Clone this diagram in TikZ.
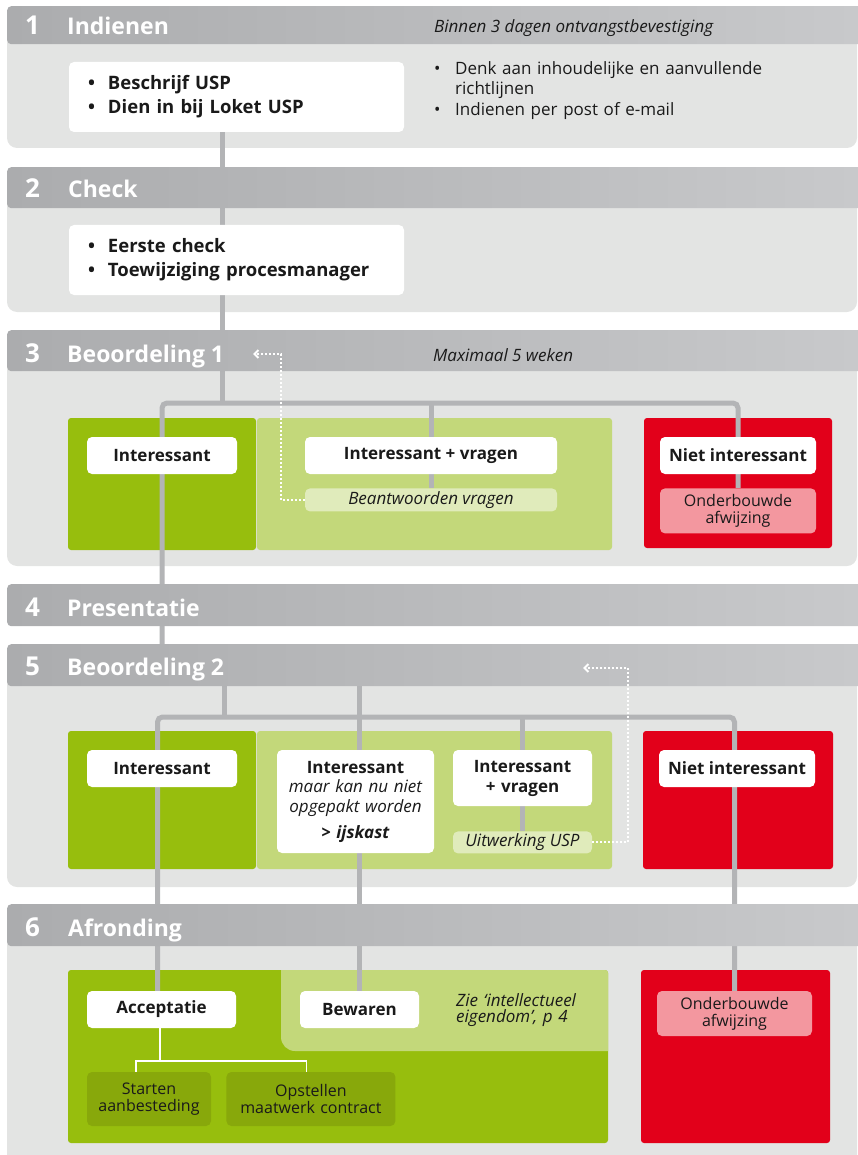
\documentclass[tikz,border=0pt]{standalone}
\usepackage{fontspec}
\setmainfont{Open Sans}
\usetikzlibrary{positioning,arrows.meta}

\definecolor{ink}{HTML}{1A1A1A}
\definecolor{barl}{HTML}{ABACAE}
\definecolor{barr}{HTML}{C9CACC}
\definecolor{panelgray}{HTML}{E3E4E3}
\definecolor{trunkgray}{HTML}{B3B4B6}
\definecolor{dkgreen}{HTML}{97BE0D}
\definecolor{ltgreen}{HTML}{C3D87A}
\definecolor{pale}{HTML}{E0EBBB}
\definecolor{olive}{HTML}{88A80B}
\definecolor{alert}{HTML}{E2001A}
\definecolor{rose}{HTML}{F3979F}

\pgfdeclarelayer{panels}
\pgfdeclarelayer{lines}
\pgfsetlayers{panels,lines,main}

\begin{document}
\begin{tikzpicture}[x=1pt,y=-1pt,
    bar/.style={anchor=north west, minimum width=880pt, inner sep=0pt,
      rounded corners=4pt, left color=barl, right color=barr},
    barnum/.style={anchor=base west, inner sep=0pt, text=white,
      font=\bfseries\fontsize{26}{26}\selectfont},
    bartitle/.style={anchor=base west, inner sep=0pt, text=white,
      font=\bfseries\fontsize{23}{26}\selectfont},
    barnote/.style={anchor=base west, inner sep=0pt, text=ink,
      font=\itshape\fontsize{17}{20}\selectfont},
    panel/.style={fill=panelgray, rounded corners=10pt},
    field/.style={rounded corners=3pt},
    box/.style={fill=white, rounded corners=5pt, inner sep=0pt, text=ink,
      align=center, font=\bfseries\fontsize{17}{20}\selectfont},
    list/.style={box, align=left, font=\bfseries\fontsize{18.5}{24}\selectfont},
    sub/.style={box, fill=pale, font=\itshape\fontsize{17}{18}\selectfont},
    reject/.style={box, fill=rose, font=\fontsize{16}{17}\selectfont},
    task/.style={box, fill=olive, font=\fontsize{16}{17}\selectfont},
    trunk/.style={draw=trunkgray, line width=5pt},
    twig/.style={draw=white, line width=1.5pt},
    retour/.style={draw=white, line width=2pt, dash pattern=on 2pt off 2pt,
      -{Straight Barb[length=4pt,width=8pt]}}]
  \useasboundingbox (0,0) rectangle (858,1155);

  % grey panels and coloured fields
  \begin{pgfonlayer}{panels}
    \fill[panel] (7,25) rectangle (857,148);
    \fill[panel] (7,185) rectangle (857,312);
    \fill[panel] (7,350) rectangle (857,566);
    \fill[panel] (7,665) rectangle (857,887);
    \fill[panel] (7,925) rectangle (857,1175);
    \fill[field, dkgreen] (68,418) rectangle (256,550);
    \fill[field, ltgreen] (257,418) rectangle (612,550);
    \fill[field, alert] (644,418) rectangle (832,548);
    \fill[field, dkgreen] (68,731) rectangle (256,869);
    \fill[field, ltgreen] (257,731) rectangle (612,869);
    \fill[field, alert] (643,731) rectangle (833,869);
    \fill[field, dkgreen] (68,970) rectangle (608,1143);
    \begin{scope}
      \clip[field] (68,970) rectangle (608,1143);
      \fill[ltgreen, rounded corners=14pt] (281,950) rectangle (640,1051);
    \end{scope}
    \fill[field, alert] (641,970) rectangle (830,1143);
  \end{pgfonlayer}

  % step bars
  \node[bar, minimum height=38pt] (bar1) at (7,6) {};
  \node[bar, minimum height=41pt] (bar2) at (7,167) {};
  \node[bar, minimum height=41pt] (bar3) at (7,330) {};
  \node[bar, minimum height=42pt] (bar4) at (7,584) {};
  \node[bar, minimum height=42pt] (bar5) at (7,644) {};
  \node[bar, minimum height=42pt] (bar6) at (7,904) {};

  \node[barnum] (num1) at ([xshift=18pt,yshift=10pt]bar1.south west) {1};
  \node[bartitle] (tit1) at ([xshift=60pt,yshift=10pt]bar1.south west) {Indienen};
  \node[barnum] (num2) at ([xshift=18pt,yshift=11pt]bar2.south west) {2};
  \node[bartitle] (tit2) at ([xshift=61pt,yshift=11pt]bar2.south west) {Check};
  \node[barnum] (num3) at ([xshift=18pt,yshift=9pt]bar3.south west) {3};
  \node[bartitle] (tit3) at ([xshift=60pt,yshift=9pt]bar3.south west) {Beoordeling 1};
  \node[barnum] (num4) at ([xshift=18pt,yshift=10pt]bar4.south west) {4};
  \node[bartitle] (tit4) at ([xshift=60pt,yshift=10pt]bar4.south west) {Presentatie};
  \node[barnum] (num5) at ([xshift=18pt,yshift=11pt]bar5.south west) {5};
  \node[bartitle] (tit5) at ([xshift=60pt,yshift=11pt]bar5.south west) {Beoordeling 2};
  \node[barnum] (num6) at ([xshift=18pt,yshift=10pt]bar6.south west) {6};
  \node[bartitle] (tit6) at ([xshift=61pt,yshift=10pt]bar6.south west) {Afronding};

  \node[barnote] (note1) at (434,33) {Binnen 3 dagen ontvangstbevestiging};
  \node[barnote] (note3) at (433,361) {Maximaal 5 weken};

  % 1 Indienen, 2 Check
  \node[list, minimum width=335pt, minimum height=70pt, text width=297pt] (usp) at (236.5,97)
    {\makebox[20pt][l]{\textbullet}Beschrijf USP\\
     \makebox[20pt][l]{\textbullet}Dien in bij Loket USP};
  \node[anchor=north west, inner sep=0pt, text width=410pt, align=left, text=ink,
    font=\fontsize{17}{20.5}\selectfont] (hint) at (434,61)
    {\makebox[21pt][l]{\textbullet}Denk aan inhoudelijke en aanvullende\\
     \hspace*{21pt}richtlijnen\\
     \makebox[21pt][l]{\textbullet}Indienen per post of e-mail};
  \node[list, minimum width=335pt, minimum height=70pt, text width=297pt] (chk) at (236.5,260)
    {\makebox[20pt][l]{\textbullet}Eerste check\\
     \makebox[20pt][l]{\textbullet}Toewijziging procesmanager};

  % 3 Beoordeling 1
  \node[box, minimum width=150pt, minimum height=37pt] (int1) at (162,455.5) {Interessant};
  \node[box, minimum width=252pt, minimum height=37pt] (vrg1) at (431,455.5) {Interessant + vragen};
  \node[sub, minimum width=252pt, minimum height=23pt, below=14pt of vrg1] (bnt) {Beantwoorden vragen};
  \node[box, minimum width=156pt, minimum height=37pt] (nint1) at (738,455.5) {Niet interessant};
  \node[reject, minimum width=156pt, minimum height=45pt, text width=156pt,
    below=14pt of nint1] (afw1) {Onderbouwde\\afwijzing};

  % 5 Beoordeling 2
  \node[box, minimum width=150pt, minimum height=37pt] (int2) at (162,768.5) {Interessant};
  \node[box, minimum width=157pt, minimum height=103pt, text width=157pt] (ijs) at (355.5,801.5)
    {Interessant\\[-1pt]
     {\normalfont\itshape\fontsize{17}{18}\selectfont maar kan nu niet}\\
     {\normalfont\itshape\fontsize{17}{18}\selectfont opgepakt worden}\\[6pt]
     \textit{> ijskast}};
  \node[box, minimum width=139pt, minimum height=56pt, text width=139pt] (vrg2) at (522.5,778)
    {Interessant\\+ vragen};
  \node[sub, minimum width=139pt, minimum height=22pt, below=25pt of vrg2] (uitw) {Uitwerking USP};
  \node[box, minimum width=156pt, minimum height=37pt] (nint2) at (737,768.5) {Niet interessant};

  % 6 Afronding
  \node[box, minimum width=149pt, minimum height=37pt] (acc) at (161.5,1009.5) {Acceptatie};
  \node[box, minimum width=119pt, minimum height=37pt] (bew) at (359.5,1009.5) {Bewaren};
  \node[anchor=north west, inner sep=0pt, text width=150pt, align=left, text=ink,
    font=\itshape\fontsize{17}{16.5}\selectfont] (zie) at (456,993)
    {Zie ‘intellectueel\\eigendom’, p 4};
  \node[reject, minimum width=155pt, minimum height=45pt, text width=155pt] (afw2) at (734.5,1013.5)
    {Onderbouwde\\afwijzing};
  \node[task, minimum width=124pt, minimum height=54pt, text width=124pt] (sta) at (149,1099)
    {Starten\\aanbesteding};
  \node[task, minimum width=169pt, minimum height=54pt, text width=169pt,
    right=15pt of sta] (ops) {Opstellen\\maatwerk contract};

  \coordinate (spine) at (222,0);
  \coordinate (split1) at (222,403);
  \coordinate (split2) at (224,717);
  \coordinate (fork) at (160,1061);
  \coordinate (ret1) at (253,354);
  \coordinate (ret2) at (583,668);

  % connectors
  \begin{pgfonlayer}{lines}
    \draw[trunk] (usp.south -| spine) -- (split1);
    \draw[trunk, rounded corners=5pt] (int1.north |- bar5.north) -- (int1.north |- split1)
      -- (nint1.north |- split1) -- (afw1.north);
    \draw[trunk] (vrg1.north |- split1) -- (vrg1.north);
    \draw[trunk] (vrg1.south) -- (bnt.north);
    \draw[trunk] (bar5.south -| split2) -- (split2);
    \draw[trunk, rounded corners=5pt] ([xshift=-4pt]acc.north) -- ([xshift=-4pt]acc.north |- split2)
      -- (afw2.north |- split2) -- (afw2.north);
    \draw[trunk] (bar5.south -| bew.north) -- (bew.north);
    \draw[trunk] (vrg2.north |- split2) -- (vrg2.north);
    \draw[trunk] (vrg2.south) -- (uitw.north);
  \end{pgfonlayer}

  \draw[twig] (acc.south -| fork) -- (fork);
  \draw[twig] ([xshift=-13pt]sta.north) |- (fork) -| ([xshift=-4.5pt]ops.north);

  \draw[retour] (bnt.west) -| ([xshift=28pt]ret1) -- (ret1);
  \draw[retour] (uitw.east) -| ([xshift=45pt]ret2) -- (ret2);
\end{tikzpicture}
\end{document}
